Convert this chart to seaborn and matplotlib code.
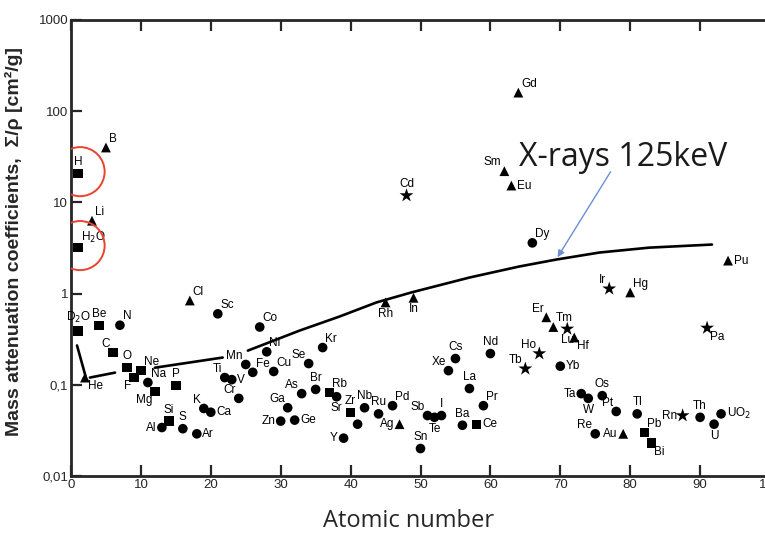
import numpy as np
import pandas as pd
import matplotlib.pyplot as plt
import seaborn as sns

# element data
symbols = ["H", "H$_2$O", "D$_2$O", "He", "Li", "Be", "B", "C", "N", "O", "F", "Ne", "Na", "Mg",
           "Al", "Si", "P", "S", "Cl", "Ar", "K", "Ca", "Sc", "Ti", "V", "Cr", "Mn", "Fe", "Co",
           "Ni", "Cu", "Zn", "Ga", "Ge", "As", "Se", "Br", "Kr", "Rb", "Sr", "Y", "Zr", "Mo",
           "Nb", "Ru", "Rh", "Pd", "Ag", "Cd", "In", "Sn", "Sb", "Te", "I", "Xe", "Cs", "Ba",
           "La", "Ce", "Pr", "Nd", "Sm", "Eu", "Gd", "Tb", "Dy", "Ho", "Er", "Tm", "Yb", "Lu",
           "Hf", "Ta", "W", "Re", "Os", "Ir", "Pt", "Au", "Hg", "Tl", "Pb", "Bi", "Rn", "Th",
           "Pa", "U", "UO$_2$", "Pu"]
atomic_number = [1, 1, 1, 2, 3, 4, 5, 6, 7, 8, 9, 10, 11, 12,
                 13, 14, 15, 16, 17, 18, 19, 20, 21, 22, 23, 24, 25, 26, 27,
                 28, 29, 30, 31, 32, 33, 34, 35, 36, 37, 38, 39, 40, 41,
                 42, 44, 45, 46, 47, 48, 49, 50, 51, 52, 53, 54, 55, 56,
                 57, 58, 59, 60, 62, 63, 64, 65, 66, 67, 68, 69, 70, 71,
                 72, 73, 74, 75, 76, 77, 78, 79, 80, 81, 82, 83, 87.5, 90,
                 91, 92, 93, 94]
mass_atten = [20.7, 3.2, 0.39, 0.12, 6.3, 0.45, 40, 0.225, 0.45, 0.154, 0.12, 0.143, 0.106, 0.084,
              0.034, 0.040, 0.098, 0.033, 0.84, 0.029, 0.055, 0.050, 0.60, 0.12, 0.114, 0.071, 0.167, 0.137, 0.43,
              0.23, 0.14, 0.040, 0.056, 0.041, 0.080, 0.171, 0.089, 0.256, 0.082, 0.074, 0.026, 0.050, 0.037,
              0.056, 0.048, 0.80, 0.059, 0.037, 11.9, 0.90, 0.020, 0.046, 0.044, 0.046, 0.143, 0.194, 0.036,
              0.091, 0.037, 0.059, 0.22, 22, 15.3, 160, 0.15, 3.6, 0.22, 0.55, 0.43, 0.16, 0.41,
              0.33, 0.080, 0.071, 0.029, 0.076, 1.13, 0.051, 0.029, 1.03, 0.048, 0.030, 0.023, 0.046, 0.044,
              0.42, 0.037, 0.048, 2.3]
kind = ["sq", "sq", "sq", "tri", "tri", "sq", "tri", "sq", "ci", "sq", "sq", "sq", "ci", "sq",
        "ci", "sq", "sq", "ci", "tri", "ci", "ci", "ci", "ci", "ci", "ci", "ci", "ci", "ci", "ci",
        "ci", "ci", "ci", "ci", "ci", "ci", "ci", "ci", "ci", "sq", "ci", "ci", "sq", "ci",
        "ci", "ci", "tri", "ci", "tri", "star", "tri", "ci", "ci", "ci", "ci", "ci", "ci", "ci",
        "ci", "sq", "ci", "ci", "tri", "tri", "tri", "star", "ci", "star", "tri", "tri", "ci", "star",
        "tri", "ci", "ci", "ci", "ci", "star", "ci", "tri", "tri", "ci", "sq", "sq", "star", "ci",
        "star", "ci", "ci", "tri"]
label_side = ["a", "ur", "a", "lr", "ur", "a", "ur", "ul", "ur", "a", "ll", "ur", "ur", "ll",
              "l", "a", "a", "a", "ur", "r", "ul", "r", "ur", "ul", "r", "ul", "ul", "ur", "ur",
              "ur", "ur", "l", "ul", "r", "ul", "ul", "a", "ur", "ur", "b", "l", "a", "",
              "a", "a", "b", "ur", "l", "a", "b", "a", "ul", "b", "a", "ul", "a", "a",
              "a", "r", "ur", "a", "ul", "r", "ur", "ul", "ur", "ul", "ul", "ur", "r", "b",
              "lr", "l", "b", "ul", "a", "ul", "ul", "l", "ur", "a", "ur", "lr", "l", "a",
              "lr", "b", "r", "r"]

# X-rays 125 keV curve (NaN = gap in the drawn line)
curve_z = [0.86, 2.1, np.nan, 2.7, 6.3, np.nan, 12.0, 21.7, np.nan,
           25.3, 32.7, 38.4, 43.7, 48.7, 57.0, 64.1, 69.4, 75.6, 82.7, 91.7]
curve_mu = [0.27, 0.123, np.nan, 0.120, 0.136, np.nan, 0.154, 0.199, np.nan,
            0.237, 0.393, 0.56, 0.80, 1.03, 1.50, 1.98, 2.36, 2.82, 3.19, 3.45]

ytick_vals = [0.01, 0.1, 1, 10, 100, 1000]
ytick_text = ["0,01", "0,1", "1", "10", "100", "1000"]
xtick_vals = list(range(0, 101, 10))

df = pd.DataFrame({"Z": atomic_number, "mu": mass_atten, "kind": kind,
                   "symbol": symbols, "side": label_side})

sns.set_style("ticks")
plt.rcParams["font.family"] = ["Liberation Sans", "DejaVu Sans"]

fig = plt.figure(figsize=(7.65, 5.35), dpi=100, facecolor="white")
ax = fig.add_axes([71 / 765, 1 - 476 / 535, 699 / 765, 456 / 535])

ax.plot(curve_z, curve_mu, color="black", lw=1.9, zorder=2)

sns.scatterplot(data=df, x="Z", y="mu", style="kind", size="kind",
                markers={"ci": "o", "sq": "s", "tri": "^", "star": "*"},
                sizes={"ci": 48, "sq": 45, "tri": 50, "star": 110},
                color="black", edgecolor="black", linewidth=0,
                legend=False, ax=ax, zorder=3)

# element labels
offsets = {"ur": (2, 2, "left", "bottom"), "r": (4, 0, "left", "center"),
           "a": (0, 4, "center", "bottom"), "b": (0, -4, "center", "top"),
           "l": (-4, 0, "right", "center"), "ul": (-2, 2, "right", "bottom"),
           "lr": (2, -2, "left", "top"), "ll": (-2, -2, "right", "top")}
for _, row in df.iterrows():
    if not row["side"]:
        continue
    dx, dy, ha, va = offsets[row["side"]]
    ax.annotate(row["symbol"], (row["Z"], row["mu"]), xytext=(dx, dy),
                textcoords="offset points", ha=ha, va=va, fontsize=8.5,
                color="black", zorder=4)

# red highlight circles around H and H2O
hl = df[df["symbol"].isin(["H", "H$_2$O"])]
ax.scatter(hl["Z"] + 0.3, hl["mu"] * 1.05, s=1250, facecolors="none",
           edgecolors="#e8432e", linewidths=1.4, zorder=5)

ax.text(79, 31, "X-rays 125keV", fontsize=23, family=["Open Sans", "DejaVu Sans"],
        ha="center", va="center", color="#1a1a1a")
ax.annotate("", xy=(69.4, 2.36), xytext=(77.4, 23),
            arrowprops=dict(arrowstyle="-|>", color="#6d8fd6", lw=1,
                            mutation_scale=10))

ax.set_yscale("log")
ax.set_xlim(0, 100)
ax.set_ylim(0.01, 1000)
ax.set_yticks(ytick_vals)
ax.set_yticklabels(ytick_text)
ax.set_xticks(xtick_vals)
ax.minorticks_off()
ax.tick_params(direction="in", length=8, width=1.6, top=True, labelsize=9.5,
               pad=2)

for sp in ax.spines.values():
    sp.set_linewidth(2)
    sp.set_visible(True)

ax.set_xlabel("Atomic number", fontsize=17, family=["Open Sans", "DejaVu Sans"])
ax.xaxis.set_label_coords(0.483, -0.072)
ax.set_ylabel("Mass attenuation coefficients,  \u03a3/\u03c1 [cm\u00b2/g]",
              fontsize=14, fontweight="bold")
ax.yaxis.set_label_coords(-0.068, 0.515)

fig.savefig("out.png", dpi=100, facecolor="white")
